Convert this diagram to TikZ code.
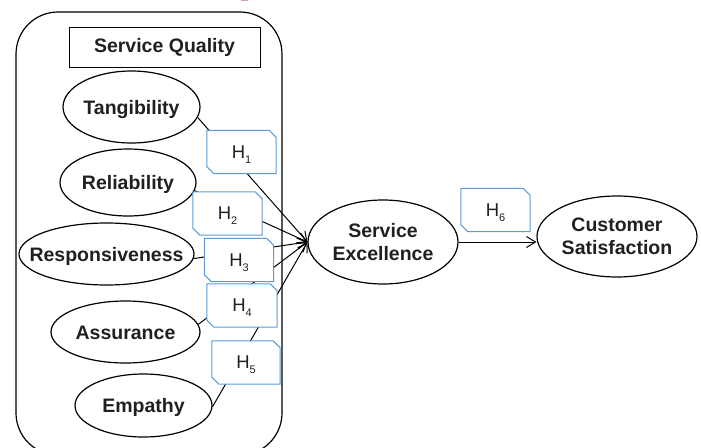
\documentclass[tikz,border=0pt]{standalone}
\usepackage{fontspec}
\setmainfont{Liberation Sans}
\usetikzlibrary{arrows.meta,shapes.geometric}
\pgfdeclarelayer{background}
\pgfsetlayers{background,main}
\definecolor{ink}{HTML}{231F20}
\definecolor{hblue}{HTML}{5B9BD5}
\definecolor{capred}{HTML}{D8A0AA}
\newcommand{\hyp}[1]{H\smash{\raisebox{-5pt}{\fontsize{11}{11}\selectfont #1}}}
\tikzset{
  construct/.style={ellipse, draw=black, line width=1.2pt, inner sep=0pt,
    label={[text=ink, font=\fontsize{19.5}{23.5}\selectfont\bfseries,
      align=center, inner sep=0pt, text height=14pt, text depth=0pt]center:#1}},
  pair/.style={ellipse, draw=black, line width=1.2pt, inner sep=0pt,
    text=ink, font=\fontsize{19.5}{23.5}\selectfont\bfseries, align=center},
  hbox/.style={rectangle, fill=white, inner sep=0pt, minimum width=69pt,
    minimum height=43pt, text=ink, font=\fontsize{18.5}{20}\selectfont},
  hedge/.style={draw=hblue, line width=1pt, line join=miter},
  link/.style={draw=black, line width=1pt,
    -{Straight Barb[length=9pt,width=11pt,line width=1pt]}},
}
\begin{document}
\begin{tikzpicture}[x=1pt,y=-1pt]
\useasboundingbox (0,0) rectangle (701,447);

% fragment of the caption above
\fill[capred] (241,0) rectangle (248,1);

% Service Quality group frame
\draw[line width=1.2pt, rounded corners=42pt] (16,12) rectangle (282,455);
\node[draw, line width=1pt, minimum width=191pt, minimum height=40pt,
  inner sep=0pt, text=ink, font=\fontsize{19.5}{23.5}\selectfont\bfseries]
  (sq) at (164.5,47) {Service Quality};

% dimensions
\node[construct=Tangibility, minimum width=137pt, minimum height=72pt] (tang) at (131.5,107) {};
\node[construct=Reliability, minimum width=136pt, minimum height=67pt] (rel) at (128,182.5) {};
\node[construct=Responsiveness, minimum width=175pt, minimum height=62pt] (resp) at (106.5,254) {};
\node[construct=Assurance, minimum width=149pt, minimum height=62pt] (assu) at (125.5,332) {};
\node[construct=Empathy, minimum width=137pt, minimum height=63pt] (emp) at (143.5,405.5) {};

% outcomes
\node[pair, minimum width=150pt, minimum height=84pt] (se) at (383,242) {Service\\Excellence};
\node[pair, minimum width=160pt, minimum height=81pt] (cs) at (617,236.5) {Customer\\Satisfaction};

% hypothesis labels
\node[hbox] (h1) at (241.5,152) {\hyp{1}};
\node[hbox] (h2) at (227.5,213.5) {\hyp{2}};
\node[hbox] (h3) at (239,260) {\hyp{3}};
\node[hbox, minimum width=70pt] (h4) at (242,305.5) {\hyp{4}};
\node[hbox, minimum width=68pt] (h5) at (246,362.5) {\hyp{5}};
\node[hbox] (h6) at (495.5,210) {\hyp{6}};
\foreach \n in {h1,h2,h3,h4,h5,h6}
  \draw[hedge] ([xshift=-7pt]\n.north east) -- ([yshift=-7pt]\n.north east)
    -- (\n.south east) -- ([xshift=7pt]\n.south west)
    -- ([yshift=7pt]\n.south west) -- (\n.north west) -- cycle;

% paths
\begin{pgfonlayer}{background}
  \draw[link] (tang.-9) -- (se.west);
  \draw[link] (rel.-7) -- (se.west);
  \draw[link] (resp.-3) -- (se.west);
  \draw[link] (assu.6) -- (se.west);
  \draw[link] (emp.-1) -- (se.west);
  \draw[link] (se.east) -- (se.east -| cs.west);
\end{pgfonlayer}
\end{tikzpicture}
\end{document}
